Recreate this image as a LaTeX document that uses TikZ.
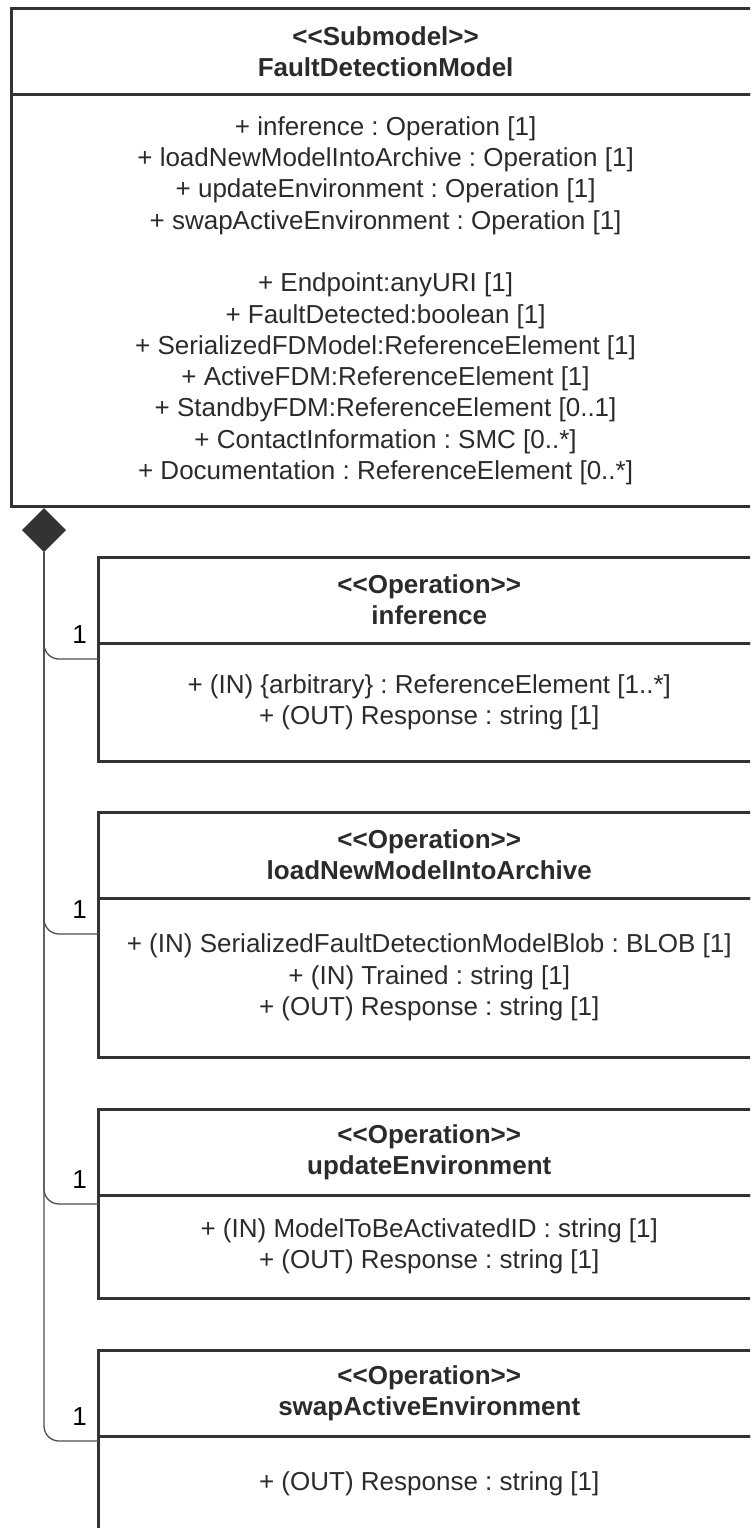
\documentclass[tikz,border=0pt]{standalone}
\usepackage{fontspec}
\setmainfont{Liberation Sans}
\usepackage{tikz}
\usetikzlibrary{positioning,calc,shapes.geometric}
\usepackage{xcolor}
\definecolor{umlline}{HTML}{333333}
\definecolor{umlconn}{HTML}{4D4D4D}
\definecolor{umltext}{HTML}{2B2B2B}
\frenchspacing
\newcommand{\stereo}[1]{<{}<#1>{}>}
\newcommand{\umlfont}{\fontsize{26}{31.3}\selectfont}
\tikzset{
	umlbox/.style={draw=umlline, line width=3pt, rectangle, inner sep=0pt, outer sep=0pt, align=center, text=umltext, font=\umlfont},
	umlhead/.style={umlbox, minimum height=86pt, font=\umlfont\bfseries},
	opbox/.style={minimum width=661.5pt},
	agg/.style={diamond, fill=umlline, inner sep=0pt, outer sep=0pt, minimum width=44pt, minimum height=44pt},
	umllink/.style={draw=umlconn, line width=1.3pt, rounded corners=15pt},
	mult/.style={anchor=base east, xshift=-11pt, yshift=16pt, inner sep=0pt, text=black, font=\umlfont}
}

\begin{document}
\begin{tikzpicture}[x=1pt,y=-1pt]
		
		\useasboundingbox (0,0) rectangle (750,1528);
		\clip (0,0) rectangle (750,1528);
		
		\node[umlhead, minimum width=748.7pt] (fdm) at (385.6,51.7) {\stereo{Submodel}\\FaultDetectionModel};
		\node[umlbox, minimum width=748.7pt, minimum height=412pt, below=0pt of fdm] (fdm-attr) {+ inference : Operation [1]\\
			+ loadNewModelIntoArchive : Operation [1]\\
			+ updateEnvironment : Operation [1]\\
			+ swapActiveEnvironment : Operation [1]\\[31.3pt]
			+ Endpoint:anyURI [1]\\
			+ FaultDetected:boolean [1]\\
			+ SerializedFDModel:ReferenceElement [1]\\
			+ ActiveFDM:ReferenceElement [1]\\
			+ StandbyFDM:ReferenceElement [0..1]\\
			+ ContactInformation : SMC [0..*]\\
			+ Documentation : ReferenceElement [0..*]};
		
		\node[agg] (agg) at (44,530) {};
		
		\node[umlhead, opbox] (op1) at (429.25,600) {\stereo{Operation}\\inference};
		\node[umlbox, opbox, minimum height=118pt, below=0pt of op1] (op1-attr) {+ (IN) \{arbitrary\} : ReferenceElement [1..*]\\
			+ (OUT) Response : string [1]};
		
		\node[umlhead, opbox, below=51pt of op1-attr] (op2) {\stereo{Operation}\\loadNewModelIntoArchive};
		\node[umlbox, opbox, minimum height=159pt, below=0pt of op2] (op2-attr) {+ (IN) SerializedFaultDetectionModelBlob : BLOB [1]\\
			+ (IN) Trained : string [1]\\
			+ (OUT) Response : string [1]};
		
		\node[umlhead, opbox, below=52pt of op2-attr] (op3) {\stereo{Operation}\\updateEnvironment};
		\node[umlbox, opbox, minimum height=103pt, below=0pt of op3] (op3-attr) {+ (IN) ModelToBeActivatedID : string [1]\\
			+ (OUT) Response : string [1]};
		
		\node[umlhead, opbox, below=52pt of op3-attr] (op4) {\stereo{Operation}\\swapActiveEnvironment};
		\node[umlbox, opbox, minimum height=96pt, below=0pt of op4] (op4-attr) {+ (OUT) Response : string [1]};
		
		\foreach \op/\dy in {op1/16, op2/36, op3/9, op4/5}
		{
			\draw[umllink] (agg.south) |- ($(\op-attr.north west)+(0,\dy)$) node[mult] {1};
		}
		
	\end{tikzpicture}
\end{document}
